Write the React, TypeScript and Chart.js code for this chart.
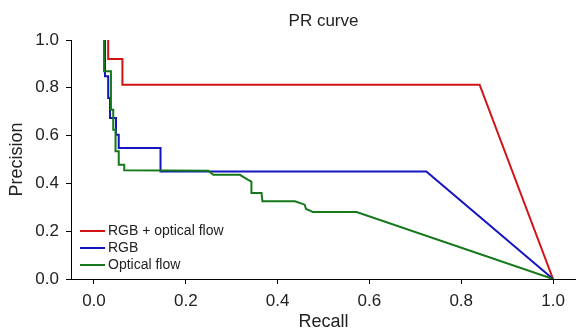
import React, { useEffect, useRef } from "react";
import { Chart, registerables } from "chart.js";

Chart.register(...registerables);

const FONT = "'Liberation Sans', Arial, Helvetica, sans-serif";
const TEXT_COLOR = "#222222";

const chartTitle = "PR curve";
const xAxisTitle = "Recall";
const yAxisTitle = "Precision";

const xTickValues = [0, 0.2, 0.4, 0.6, 0.8, 1.0];
const yTickValues = [0, 0.2, 0.4, 0.6, 0.8, 1.0];

const seriesLabels = ["RGB + optical flow", "RGB", "Optical flow"];
const seriesColors = ["#d01414", "#1414c0", "#15781a"];

const recallRgbFlow = [0.031, 0.031, 0.062, 0.062, 0.84, 1.0];
const precisionRgbFlow = [1.0, 0.921, 0.921, 0.813, 0.813, 0.0];

const recallRgb = [0.024, 0.024, 0.031, 0.031, 0.035, 0.035, 0.048, 0.048, 0.054, 0.054, 0.145, 0.145, 0.724, 1.0];
const precisionRgb = [1.0, 0.848, 0.848, 0.757, 0.757, 0.674, 0.674, 0.604, 0.604, 0.548, 0.548, 0.45, 0.45, 0.0];

const recallFlow = [
  0.022, 0.022, 0.037, 0.037, 0.042, 0.042, 0.047, 0.047, 0.054, 0.054, 0.066, 0.066,
  0.249, 0.26, 0.318, 0.325, 0.336, 0.343, 0.343, 0.365, 0.367, 0.438, 0.459, 0.462,
  0.474, 0.477, 0.572, 1.0,
];
const precisionFlow = [
  1.0, 0.869, 0.869, 0.708, 0.708, 0.625, 0.625, 0.534, 0.534, 0.478, 0.478, 0.455,
  0.453, 0.436, 0.436, 0.427, 0.415, 0.408, 0.36, 0.36, 0.325, 0.325, 0.311, 0.293,
  0.283, 0.28, 0.28, 0.0,
];

const seriesRecall = [recallRgbFlow, recallRgb, recallFlow];
const seriesPrecision = [precisionRgbFlow, precisionRgb, precisionFlow];

const overlayPlugin = {
  id: "overlayPlugin",
  afterDraw(chart: any) {
    const { ctx, chartArea } = chart;
    ctx.save();
    // title
    ctx.fillStyle = TEXT_COLOR;
    ctx.font = `17px ${FONT}`;
    ctx.textAlign = "center";
    ctx.textBaseline = "alphabetic";
    ctx.fillText(chartTitle, (chartArea.left + chartArea.right) / 2, 26);
    // legend
    const rowYs = [chartArea.bottom - 48, chartArea.bottom - 31, chartArea.bottom - 14];
    ctx.font = `14px ${FONT}`;
    ctx.textAlign = "left";
    ctx.textBaseline = "middle";
    seriesLabels.forEach((label, i) => {
      const y = rowYs[i];
      ctx.strokeStyle = seriesColors[i];
      ctx.lineWidth = 2;
      ctx.beginPath();
      ctx.moveTo(chartArea.left + 9, y);
      ctx.lineTo(chartArea.left + 34, y);
      ctx.stroke();
      ctx.fillStyle = TEXT_COLOR;
      ctx.fillText(label, chartArea.left + 37, y + 0.5);
    });
    ctx.restore();
  },
};

export default function App() {
  const canvasRef = useRef<HTMLCanvasElement | null>(null);

  useEffect(() => {
    const canvas = canvasRef.current;
    if (!canvas) return;
    const datasets = seriesLabels.map((label, i) => ({
      label,
      data: seriesRecall[i].map((r, j) => ({ x: r, y: seriesPrecision[i][j] })),
      borderColor: seriesColors[i],
      backgroundColor: seriesColors[i],
      borderWidth: 2,
      pointRadius: 0,
      showLine: true,
      fill: false,
      tension: 0,
      order: 3 - i,
    }));

    const chart = new Chart(canvas, {
      type: "scatter",
      data: { datasets },
      plugins: [overlayPlugin],
      options: {
        animation: false,
        responsive: false,
        devicePixelRatio: 1,
        layout: { padding: { top: 40, right: 0, left: 0, bottom: 0 } },
        plugins: {
          legend: { display: false },
          title: { display: false },
          tooltip: { enabled: false },
        },
        scales: {
          x: {
            type: "linear",
            min: -0.05,
            max: 1.05,
            afterBuildTicks: (s: any) => {
              s.ticks = xTickValues.map((v) => ({ value: v }));
            },
            afterFit: (s: any) => {
              s.height = 52;
            },
            ticks: {
              font: { size: 17, family: FONT },
              color: TEXT_COLOR,
              padding: 7,
              maxRotation: 0,
              autoSkip: false,
              callback: (v: any) => Number(v).toFixed(1),
            },
            grid: {
              drawOnChartArea: false,
              drawTicks: true,
              tickLength: 5,
              color: "#000000",
              lineWidth: 1,
            },
            border: { display: true, color: "#000000", width: 1 },
            title: {
              display: true,
              text: xAxisTitle,
              font: { size: 18, family: FONT, lineHeight: 1 },
              color: TEXT_COLOR,
              padding: { top: 0, bottom: 0 },
            },
          },
          y: {
            type: "linear",
            min: 0,
            max: 1.0,
            afterBuildTicks: (s: any) => {
              s.ticks = yTickValues.map((v) => ({ value: v }));
            },
            afterFit: (s: any) => {
              s.width = 71;
            },
            ticks: {
              font: { size: 17, family: FONT },
              color: TEXT_COLOR,
              padding: 7,
              autoSkip: false,
              callback: (v: any) => Number(v).toFixed(1),
            },
            grid: {
              drawOnChartArea: false,
              drawTicks: true,
              tickLength: 5,
              color: "#000000",
              lineWidth: 1,
            },
            border: { display: true, color: "#000000", width: 1 },
            title: {
              display: true,
              text: yAxisTitle,
              font: { size: 18, family: FONT, lineHeight: 1 },
              color: TEXT_COLOR,
              padding: { top: 8, bottom: 0 },
            },
          },
        },
      },
    } as any);

    return () => {
      chart.destroy();
    };
  }, []);

  return (
    <div style={{ position: "fixed", left: 0, top: 0, width: 576, height: 331, background: "#ffffff" }}>
      <canvas ref={canvasRef} width={576} height={331} style={{ display: "block" }} />
    </div>
  );
}
